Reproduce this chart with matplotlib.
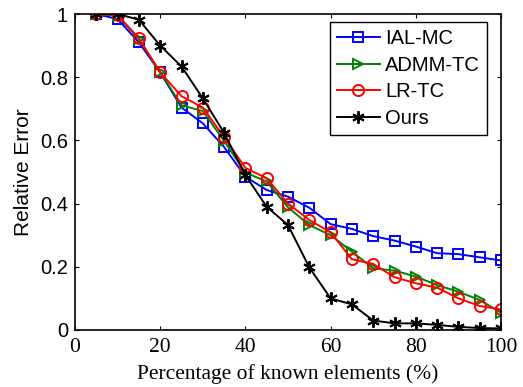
import matplotlib
matplotlib.use("Agg")
import matplotlib.pyplot as plt

# sampling ratios (%)
ratios = [5, 10, 15, 20, 25, 30, 35, 40, 45, 50,
          55, 60, 65, 70, 75, 80, 85, 90, 95, 100]

ial_mc = [1.0, 0.984, 0.91, 0.815, 0.704, 0.654, 0.579, 0.485, 0.443, 0.422,
          0.387, 0.335, 0.32, 0.297, 0.283, 0.264, 0.243, 0.24, 0.23, 0.22]
admm_tc = [1.0, 0.995, 0.92, 0.815, 0.711, 0.693, 0.598, 0.498, 0.47, 0.388,
           0.332, 0.30, 0.248, 0.195, 0.188, 0.169, 0.142, 0.121, 0.095, 0.055]
lr_tc = [1.0, 0.997, 0.923, 0.815, 0.74, 0.704, 0.61, 0.513, 0.48, 0.40,
         0.348, 0.309, 0.224, 0.209, 0.167, 0.148, 0.134, 0.10, 0.076, 0.065]
ours = [1.0, 1.0, 0.982, 0.90, 0.834, 0.733, 0.624, 0.49, 0.39, 0.332,
        0.198, 0.10, 0.081, 0.03, 0.021, 0.021, 0.016, 0.01, 0.006, 0.005]

sans = ["Liberation Sans", "DejaVu Sans"]
serif = ["Liberation Serif", "DejaVu Serif"]

fig = plt.figure(figsize=(5.23, 3.87), dpi=100)
ax = fig.add_axes([0.1434, 0.1473, 0.8146, 0.8165])

ax.plot(ratios, ial_mc, color="#0000ff", lw=1.4, marker="s", ms=7,
        mfc="none", mec="#0000ff", mew=1.4, label="IAL-MC")
ax.plot(ratios, admm_tc, color="#008000", lw=1.4, marker=">", ms=7,
        mfc="none", mec="#008000", mew=1.4, label="ADMM-TC")
ax.plot(ratios, lr_tc, color="#ff0000", lw=1.4, marker="o", ms=8,
        mfc="none", mec="#ff0000", mew=1.4, label="LR-TC")
ax.plot(ratios, ours, color="black", lw=1.4, marker=(6, 2, 0), ms=9,
        mec="black", mew=1.4, label="Ours")

ax.set_xlim(0, 100)
ax.set_ylim(0, 1)
ax.set_xticks([0, 20, 40, 60, 80, 100])
ax.set_yticks([0, 0.2, 0.4, 0.6, 0.8, 1])
ax.set_yticklabels(["0", "0.2", "0.4", "0.6", "0.8", "1"], family=sans, fontsize=14.5)
ax.set_xticklabels(["0", "20", "40", "60", "80", "100"], family=serif, fontsize=15.5)
ax.tick_params(direction="in", length=3, width=0.8, top=True, right=True)
ax.tick_params(axis="y", pad=5)
ax.tick_params(axis="x", pad=6)
for s in ax.spines.values():
    s.set_linewidth(1.2)

ax.set_xlabel("Percentage of known elements (%)", family=serif, fontsize=15.5, labelpad=5)
ax.set_ylabel("Relative Error", family=sans, fontsize=15, labelpad=5)

leg = ax.legend(loc="upper right", bbox_to_anchor=(0.967, 0.975),
                prop={"family": sans, "size": 14.5},
                fancybox=False, edgecolor="black", framealpha=1, handlelength=2.15,
                borderpad=0.35, labelspacing=0.38, handletextpad=0.25, borderaxespad=0)
leg.get_frame().set_linewidth(1.0)

fig.savefig("out.png", dpi=100)
